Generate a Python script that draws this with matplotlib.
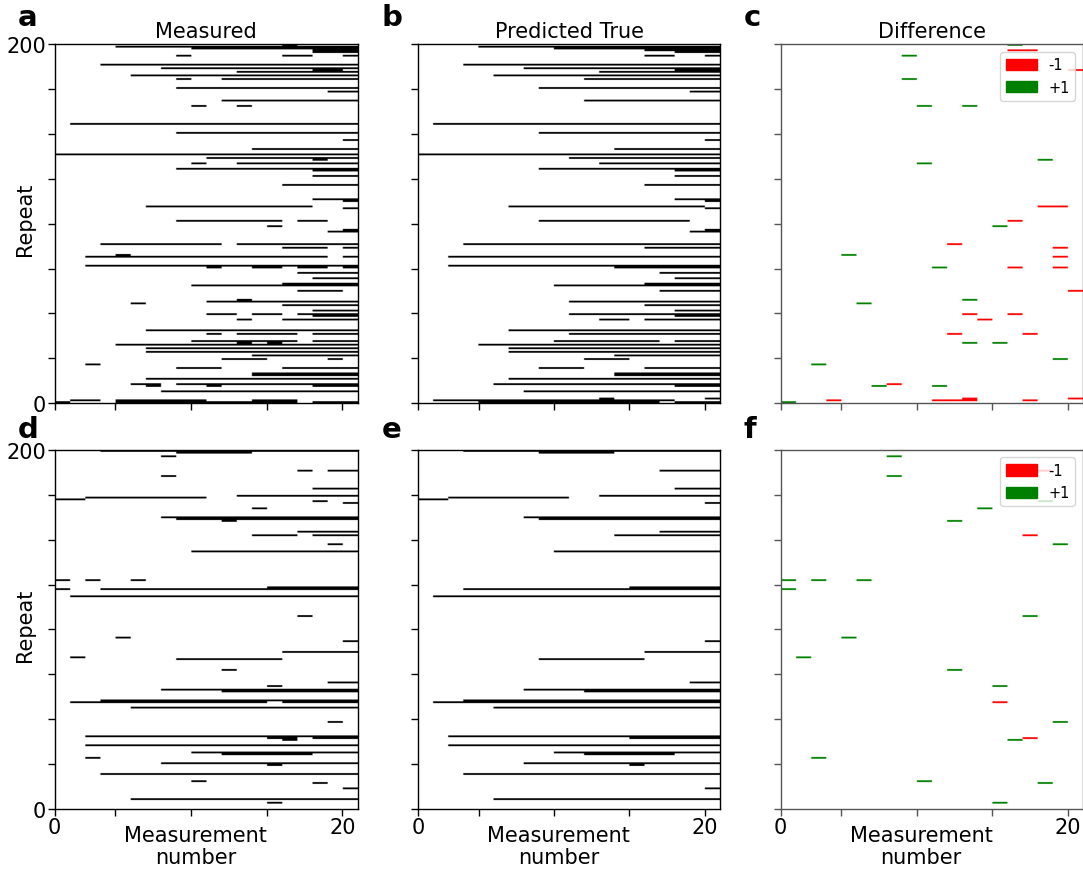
import matplotlib.pyplot as plt
import numpy as np
from matplotlib.colors import ListedColormap
from matplotlib.patches import Patch

N_REPEATS = 200
N_MEAS = 20

# runs of 1s in the measured record: (repeat, first measurement col, last col)
top_measured_runs = [
    (199, 15, 15), (198, 4, 19), (197, 9, 19), (196, 17, 19), (195, 17, 19),
    (193, 8, 8), (193, 15, 16), (193, 19, 19), (188, 3, 19), (186, 7, 19),
    (185, 17, 18), (184, 12, 19), (182, 5, 19), (180, 8, 8), (180, 11, 19),
    (175, 8, 19), (173, 18, 19), (168, 11, 19), (165, 9, 9), (165, 12, 12),
    (155, 1, 19), (150, 8, 19), (146, 19, 19), (141, 13, 19), (138, 0, 19),
    (136, 10, 19), (135, 17, 17), (133, 9, 9), (133, 12, 19), (130, 8, 19),
    (129, 17, 19), (126, 17, 19), (121, 15, 19), (113, 17, 19), (112, 19, 19),
    (109, 6, 16), (108, 19, 19), (101, 8, 14), (101, 16, 17), (98, 14, 14),
    (96, 19, 19), (95, 18, 19), (88, 3, 10), (88, 12, 19), (86, 15, 17),
    (86, 19, 19), (82, 4, 4), (81, 2, 17), (81, 19, 19), (76, 2, 19),
    (75, 10, 10), (75, 13, 14), (75, 16, 17), (75, 19, 19), (72, 16, 19),
    (69, 17, 19), (66, 15, 19), (65, 9, 19), (62, 16, 18), (57, 12, 12),
    (56, 10, 19), (55, 5, 5), (54, 15, 19), (51, 17, 19), (49, 10, 11),
    (49, 13, 14), (49, 16, 19), (48, 17, 19), (46, 12, 12), (46, 15, 19),
    (40, 6, 19), (38, 10, 10), (38, 12, 15), (38, 17, 19), (34, 9, 15),
    (34, 17, 19), (33, 12, 12), (33, 14, 14), (32, 4, 19), (30, 6, 19),
    (28, 6, 19), (26, 13, 19), (24, 11, 13), (24, 18, 18), (21, 2, 2),
    (19, 8, 10), (19, 15, 19), (16, 13, 19), (15, 13, 19), (13, 6, 19),
    (10, 5, 6), (10, 8, 19), (9, 6, 6), (9, 10, 10), (9, 17, 19),
    (6, 7, 19), (1, 1, 2), (1, 4, 9), (1, 13, 15), (0, 0, 0),
    (0, 4, 15), (0, 17, 19),
]

# measured minus predicted: (repeat, col, +1 / -1)
top_flips = [
    (199, 15, 1), (196, 15, -1), (196, 16, -1), (193, 8, 1), (185, 19, -1),
    (180, 8, 1), (165, 9, 1), (165, 12, 1), (135, 17, 1), (133, 9, 1),
    (109, 17, -1), (109, 18, -1), (101, 15, -1), (98, 14, 1), (88, 11, -1),
    (86, 18, -1), (82, 4, 1), (81, 18, -1), (75, 10, 1), (75, 15, -1),
    (75, 18, -1), (62, 19, -1), (57, 12, 1), (55, 5, 1), (49, 12, -1),
    (49, 15, -1), (46, 13, -1), (38, 11, -1), (38, 16, -1), (33, 12, 1),
    (33, 14, 1), (24, 18, 1), (21, 2, 1), (10, 7, -1), (9, 6, 1),
    (9, 10, 1), (2, 12, -1), (2, 19, -1), (1, 3, -1), (1, 10, -1),
    (1, 11, -1), (1, 12, -1), (1, 16, -1), (0, 0, 1),
]

bottom_measured_runs = [
    (199, 3, 19), (198, 8, 12), (196, 7, 7), (188, 16, 16), (188, 18, 19),
    (185, 7, 7), (178, 17, 19), (174, 12, 19), (173, 2, 9), (172, 0, 1),
    (171, 17, 17), (170, 19, 19), (167, 13, 13), (162, 7, 19), (161, 8, 19),
    (160, 11, 11), (154, 16, 19), (152, 13, 15), (152, 17, 19), (147, 18, 18),
    (143, 9, 19), (127, 0, 0), (127, 2, 2), (127, 5, 5), (123, 14, 19),
    (122, 0, 0), (122, 3, 19), (118, 1, 19), (107, 16, 16), (95, 4, 4),
    (93, 19, 19), (87, 15, 19), (84, 1, 1), (83, 8, 14), (77, 11, 11),
    (70, 18, 19), (68, 14, 14), (66, 7, 19), (65, 11, 19), (60, 3, 19),
    (59, 1, 13), (59, 15, 19), (56, 5, 19), (48, 18, 18), (40, 2, 19),
    (39, 14, 15), (39, 17, 19), (38, 15, 15), (35, 2, 19), (31, 9, 19),
    (30, 11, 16), (28, 2, 2), (25, 7, 19), (24, 14, 14), (19, 3, 19),
    (15, 9, 9), (14, 17, 17), (11, 19, 19), (5, 5, 19), (3, 14, 14),
]

bottom_flips = [
    (196, 7, 1), (188, 17, -1), (185, 7, 1), (171, 17, 1), (167, 13, 1),
    (160, 11, 1), (152, 16, -1), (147, 18, 1), (127, 0, 1), (127, 2, 1),
    (127, 5, 1), (122, 0, 1), (107, 16, 1), (95, 4, 1), (84, 1, 1),
    (77, 11, 1), (68, 14, 1), (59, 14, -1), (48, 18, 1), (39, 16, -1),
    (38, 15, 1), (28, 2, 1), (15, 9, 1), (14, 17, 1), (3, 14, 1),
]

panel_titles = ["Measured", "Predicted True", "Difference"]
panel_letters = [["a", "b", "c"], ["d", "e", "f"]]


def runs_to_grid(runs):
    grid = np.zeros((N_REPEATS, N_MEAS))
    for row, c0, c1 in runs:
        grid[row, c0:c1 + 1] = 1
    return grid


def flips_to_grid(flips):
    grid = np.zeros((N_REPEATS, N_MEAS))
    for row, col, sign in flips:
        grid[row, col] = sign
    return grid


def supersample(grid):
    # finer raster so the smoothing only softens the edges of each cell
    return np.repeat(np.repeat(grid, 4, axis=0), 8, axis=1)


measured_top = runs_to_grid(top_measured_runs)
diff_top = flips_to_grid(top_flips)
predicted_top = np.clip(measured_top - diff_top, 0, 1)
measured_bottom = runs_to_grid(bottom_measured_runs)
diff_bottom = flips_to_grid(bottom_flips)
predicted_bottom = np.clip(measured_bottom - diff_bottom, 0, 1)

W, H = 1083, 878
fig = plt.figure(figsize=(W / 100, H / 100), dpi=100)

col_left = [54.5, 418.3, 780.7]
col_width = [303.0, 301.7, 302.0]
row_top = [45.3, 451.0]
row_height = 358.8
letter_rise = [19, 13]

diff_cmap = ListedColormap(["red", "white", "green"])
extent = (0, N_MEAS, 0, N_REPEATS)

for r, (meas, pred, diff) in enumerate([(measured_top, predicted_top, diff_top),
                                         (measured_bottom, predicted_bottom, diff_bottom)]):
    for c, grid in enumerate([meas, pred, diff]):
        rect = [col_left[c] / W, 1 - (row_top[r] + row_height) / H,
                col_width[c] / W, row_height / H]
        ax = fig.add_axes(rect)
        if c < 2:
            ax.imshow(supersample(grid), cmap="gray_r", vmin=0, vmax=1, origin="lower",
                      aspect="auto", extent=extent)
            edge = "black"
        else:
            ax.imshow(supersample(grid), cmap=diff_cmap, vmin=-1, vmax=1, origin="lower",
                      aspect="auto", extent=extent)
            edge = "#555555"
            handles = [Patch(color="red", label="-1"), Patch(color="green", label="+1")]
            ax.legend(handles=handles, loc="upper right", fontsize=10.5,
                      handlelength=2.1, handleheight=0.8)
        for sp in ax.spines.values():
            sp.set_color(edge)
            sp.set_linewidth(1.0)

        ax.set_xlim(0, N_MEAS)
        ax.set_ylim(0, N_REPEATS)
        ax.set_xticks([0, 4, 9, 14, 19])
        ax.set_yticks(np.arange(0, N_REPEATS + 1, 25))
        if r == 1:
            ax.set_xticklabels(["0", "", "", "", "20"])
            ax.set_xlabel("Measurement\nnumber", fontsize=15, linespacing=1.1)
            ax.xaxis.set_label_coords(0.465, -0.045)
        else:
            ax.set_xticklabels([])
        if c == 0:
            ax.set_yticklabels(["0"] + [""] * 7 + ["200"])
            ax.set_ylabel("Repeat", fontsize=15)
            ax.yaxis.set_label_coords(-0.065, 0.515)
        else:
            ax.set_yticklabels([])
        ax.tick_params(direction="out", length=5, width=1, labelsize=15,
                       pad=1, color=edge)
        if r == 0:
            ax.set_title(panel_titles[c], fontsize=15, pad=5)

        fig.text((col_left[c] - 37) / W, 1 - (row_top[r] - letter_rise[r]) / H,
                 panel_letters[r][c], fontsize=21, fontweight="bold",
                 va="baseline", ha="left")

fig.savefig("out.png", dpi=100)
